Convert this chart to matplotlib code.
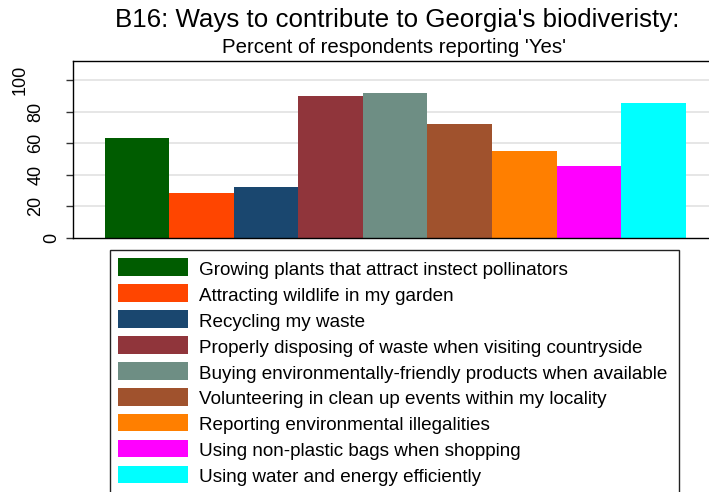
import matplotlib
matplotlib.use("Agg")
import matplotlib.pyplot as plt
from matplotlib.patches import Rectangle

plt.rcParams['font.family'] = ['Liberation Sans', 'DejaVu Sans']

categories = [
    "Growing plants that attract instect pollinators",
    "Attracting wildlife in my garden",
    "Recycling my waste",
    "Properly disposing of waste when visiting countryside",
    "Buying environmentally-friendly products when available",
    "Volunteering in clean up events within my locality",
    "Reporting environmental illegalities",
    "Using non-plastic bags when shopping",
    "Using water and energy efficiently",
]
values = [63.1, 28.7, 32.3, 90.1, 91.8, 71.9, 54.8, 45.6, 85.6]
colors = ["#005C00", "#FF4500", "#1A476F", "#90353B", "#6E8E84",
          "#A0522D", "#FF7F00", "#FF00FF", "#00FFFF"]
yticks = [0, 20, 40, 60, 80, 100]
title = "B16: Ways to contribute to Georgia's biodiveristy:"
subtitle = "Percent of respondents reporting 'Yes'"

W, H = 709, 492
fig = plt.figure(figsize=(W / 100, H / 100), dpi=100)

def fx(px):
    return px / W

def fy(py):
    return 1 - py / H

ax_left, ax_right, ax_top, ax_bot = 73.3, 709.0, 61.3, 238.0
ax = fig.add_axes([fx(ax_left), fy(ax_bot), fx(ax_right - ax_left), (ax_bot - ax_top) / H])

xs = list(range(len(values)))
bars = ax.bar(xs, values, width=1.0, color=colors, edgecolor='none', zorder=2)
ax.set_xlim(-0.986, 8.861)
ax.set_ylim(0, 111.8)

for t in yticks[1:]:
    ax.axhline(t, color='#e2e2e2', lw=1.2, zorder=1)

ax.set_xticks([])
ax.set_yticks(yticks)
ax.set_yticklabels([])
ax.tick_params(axis='y', length=5, width=1.0, color='#333333', direction='out')
for s in ['left', 'top', 'bottom']:
    ax.spines[s].set_color('black')
    ax.spines[s].set_linewidth(1.0)
ax.spines['right'].set_visible(False)

# rotated tick labels (staggered as in the reference)
ytrans = ax.get_yaxis_transform()
axw = ax_right - ax_left
for t in yticks:
    lab = str(t)
    cx = 68 - 16 * len(lab)
    ax.text((cx - ax_left) / axw, t, lab, rotation=90, ha='center', va='center',
            fontsize=13, transform=ytrans, clip_on=False)

fig.text(fx(397), fy(27), title, ha='center', va='baseline', fontsize=18.6)
fig.text(fx(393.5), fy(53.3), subtitle, ha='center', va='baseline', fontsize=14.7)

# legend box
box = Rectangle((fx(110), fy(500)), fx(679 - 110), (500 - 250) / H,
                transform=fig.transFigure, facecolor='white', edgecolor='#222222',
                lw=1.0, zorder=0)
fig.add_artist(box)
for i, (lab, c) in enumerate(zip(categories, colors)):
    top = 258.3 + 25.9 * i
    fig.add_artist(Rectangle((fx(117.7), fy(top + 17.7)), fx(70), 17.7 / H,
                             transform=fig.transFigure, facecolor=c, edgecolor='none'))
    fig.text(fx(199.3), fy(275 + 25.9 * i), lab, ha='left', va='baseline', fontsize=13.6)

fig.savefig("out.png", dpi=100)
